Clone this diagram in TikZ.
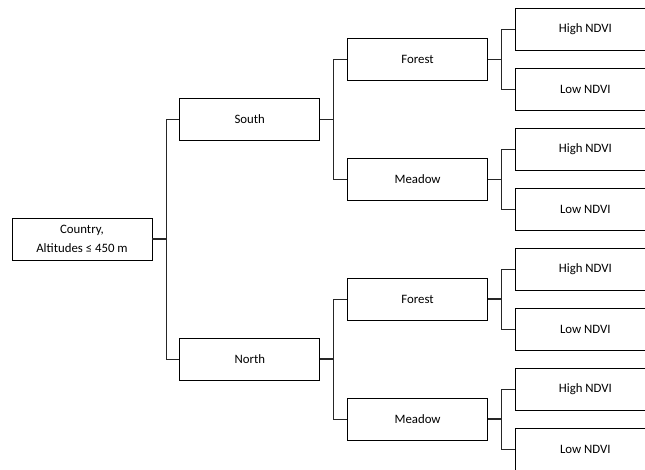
\documentclass[tikz,border=0pt]{standalone}
\usepackage{fontspec}
\setmainfont{Carlito}
\usepackage{tikz}
\usetikzlibrary{positioning, calc}

\begin{document}
\begin{tikzpicture}[
    node distance=20.25pt,
    box/.style={rectangle, draw, line width=0.6pt, minimum width=105pt, minimum height=31.5pt, inner sep=0pt, text centered, font=\fontsize{9.6}{14.3}\selectfont},
    link/.style={line width=0.5pt, draw=black!85},
    heavylink/.style={line width=1.1pt}
]

% frame and clip (the leaves run off the page)
\useasboundingbox (0,0) rectangle (483.75pt,-351.75pt);
\clip (0,0) rectangle (483.75pt,-351.75pt);

% Root
\node[box, align=center] (country) at (61.5pt,-179.25pt) {Country,\\Altitudes ≤ 450 m};

% Regions
\node[box, right=of country, yshift=90pt] (south) {South};
\node[box, right=of country, yshift=-90pt] (north) {North};

% Land cover
\node[box, right=of south, yshift=45pt] (sforest) {Forest};
\node[box, right=of south, yshift=-45pt] (smeadow) {Meadow};
\node[box, right=of north, yshift=45pt] (nforest) {Forest};
\node[box, right=of north, yshift=-45pt] (nmeadow) {Meadow};

% NDVI classes
\node[box, right=of sforest, yshift=22.5pt] (sfhigh) {High NDVI};
\node[box, right=of sforest, yshift=-22.5pt] (sflow) {Low NDVI};
\node[box, right=of smeadow, yshift=22.5pt] (smhigh) {High NDVI};
\node[box, right=of smeadow, yshift=-22.5pt] (smlow) {Low NDVI};
\node[box, right=of nforest, yshift=22.5pt] (nfhigh) {High NDVI};
\node[box, right=of nforest, yshift=-22.5pt] (nflow) {Low NDVI};
\node[box, right=of nmeadow, yshift=22.5pt] (nmhigh) {High NDVI};
\node[box, right=of nmeadow, yshift=-22.5pt] (nmlow) {Low NDVI};

% Links
\draw[link, heavylink] (country.east) -- ++(10.1pt,0) coordinate (countryj);
\draw[link] (countryj) |- (south.west);
\draw[link] (countryj) |- (north.west);

\draw[link] (south.east) -- ++(10.1pt,0) coordinate (southj);
\draw[link] (southj) |- (sforest.west);
\draw[link] (southj) |- (smeadow.west);

\draw[link, heavylink] (north.east) -- ++(10.1pt,0) coordinate (northj);
\draw[link] (northj) |- (nforest.west);
\draw[link] (northj) |- (nmeadow.west);

\draw[link] (sforest.east) -- ++(10.1pt,0) coordinate (sforestj);
\draw[link] (sforestj) |- (sfhigh.west);
\draw[link] (sforestj) |- (sflow.west);

\draw[link] (smeadow.east) -- ++(10.1pt,0) coordinate (smeadowj);
\draw[link] (smeadowj) |- (smhigh.west);
\draw[link] (smeadowj) |- (smlow.west);

\draw[link, heavylink] (nforest.east) -- ++(10.1pt,0) coordinate (nforestj);
\draw[link] (nforestj) |- (nfhigh.west);
\draw[link] (nforestj) |- (nflow.west);

\draw[link, heavylink] (nmeadow.east) -- ++(10.1pt,0) coordinate (nmeadowj);
\draw[link] (nmeadowj) |- (nmhigh.west);
\draw[link] (nmeadowj) |- (nmlow.west);

\end{tikzpicture}
\end{document}
